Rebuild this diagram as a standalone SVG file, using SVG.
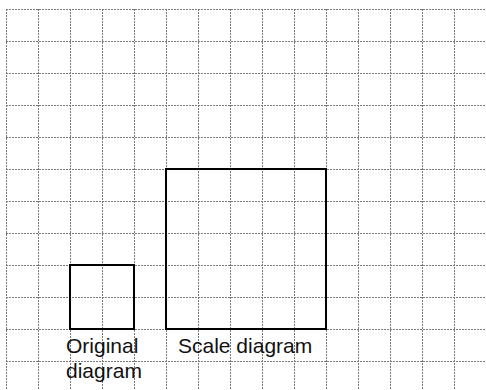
<svg xmlns="http://www.w3.org/2000/svg" width="486" height="390" viewBox="0 0 486 390">
<style>
.grid line{stroke:#7a7a7a;stroke-width:1;stroke-dasharray:2 1}
.sq{fill:none;stroke:#000;stroke-width:2}
.lbl{font-family:"Liberation Sans",Arial,sans-serif;font-size:21px;fill:#111}
</style>
<rect width="486" height="390" fill="#fff"/>
<g class="grid" id="grid">
<line x1="6" y1="9.5" x2="486" y2="9.5"/>
<line x1="6" y1="41.5" x2="486" y2="41.5"/>
<line x1="6" y1="73.5" x2="486" y2="73.5"/>
<line x1="6" y1="105.5" x2="486" y2="105.5"/>
<line x1="6" y1="137.5" x2="486" y2="137.5"/>
<line x1="6" y1="169.5" x2="486" y2="169.5"/>
<line x1="6" y1="201.5" x2="486" y2="201.5"/>
<line x1="6" y1="233.5" x2="486" y2="233.5"/>
<line x1="6" y1="265.5" x2="486" y2="265.5"/>
<line x1="6" y1="297.5" x2="486" y2="297.5"/>
<line x1="6" y1="329.5" x2="486" y2="329.5"/>
<line x1="6" y1="361.5" x2="486" y2="361.5"/>
<line x1="6.5" y1="9" x2="6.5" y2="390"/>
<line x1="38.5" y1="9" x2="38.5" y2="390"/>
<line x1="70.5" y1="9" x2="70.5" y2="390"/>
<line x1="102.5" y1="9" x2="102.5" y2="390"/>
<line x1="134.5" y1="9" x2="134.5" y2="390"/>
<line x1="166.5" y1="9" x2="166.5" y2="390"/>
<line x1="198.5" y1="9" x2="198.5" y2="390"/>
<line x1="230.5" y1="9" x2="230.5" y2="390"/>
<line x1="262.5" y1="9" x2="262.5" y2="390"/>
<line x1="294.5" y1="9" x2="294.5" y2="390"/>
<line x1="326.5" y1="9" x2="326.5" y2="390"/>
<line x1="358.5" y1="9" x2="358.5" y2="390"/>
<line x1="390.5" y1="9" x2="390.5" y2="390"/>
<line x1="422.5" y1="9" x2="422.5" y2="390"/>
<line x1="454.5" y1="9" x2="454.5" y2="390"/>
</g>
<g id="connectors"/>
<g id="original">
<rect class="sq" x="70" y="265" width="64" height="64"/>
<text class="lbl" x="66" y="353">Original</text>
<text class="lbl" x="66" y="378">diagram</text>
</g>
<g id="scale">
<rect class="sq" x="166" y="169" width="160" height="160"/>
<text class="lbl" x="178" y="353">Scale diagram</text>
</g>
</svg>
